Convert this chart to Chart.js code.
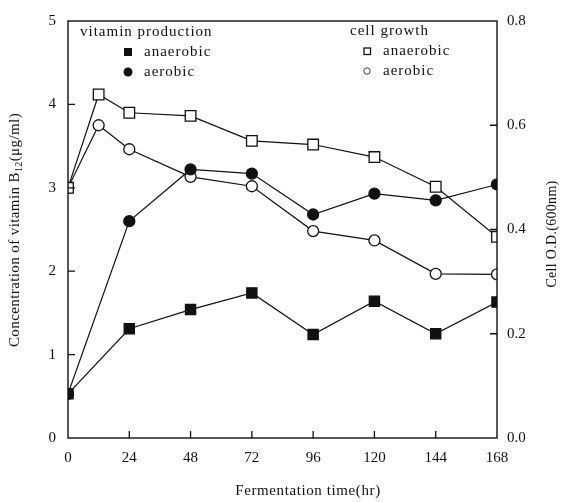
<!DOCTYPE html>
<html>
<head>
<meta charset="utf-8">
<script src="https://cdn.jsdelivr.net/npm/chart.js@4.4.1/dist/chart.umd.min.js"></script>
<style>
  html, body { margin: 0; padding: 0; background: #fff; }
  #wrap { width: 561px; height: 502px; }
</style>
</head>
<body>
<div id="wrap"><canvas id="chart" width="561" height="502"></canvas></div>
<script>
// vitamin B12 + cell growth vs fermentation time
const vitaminHours = [0, 24, 48, 72, 96, 120, 144, 168];
const cellHours = [0, 12, 24, 48, 72, 96, 120, 144, 168];

const vitaminAnaerobic = [0.53, 1.31, 1.54, 1.74, 1.24, 1.64, 1.25, 1.63];
const vitaminAerobic = [0.53, 2.60, 3.22, 3.17, 2.68, 2.93, 2.85, 3.04];
const cellAnaerobic = [0.480, 0.659, 0.624, 0.618, 0.570, 0.563, 0.539, 0.482, 0.386];
const cellAerobic = [0.480, 0.600, 0.554, 0.501, 0.483, 0.397, 0.379, 0.315, 0.314];

const leftTicks = [0, 1, 2, 3, 4, 5];
const rightTicks = [0, 0.2, 0.4, 0.6, 0.8];
const timeTicks = [0, 24, 48, 72, 96, 120, 144, 168];

const FONT = '"Liberation Serif", "DejaVu Serif", serif';
const INK = '#111';

function toPoints(xs, ys) {
    return xs.map((x, i) => ({ x: x, y: ys[i] }));
}

function series(label, xs, ys, axis, style, filled, radius) {
    return {
        label: label,
        data: toPoints(xs, ys),
        yAxisID: axis,
        borderColor: INK,
        borderWidth: 1.2,
        pointStyle: style,
        pointRadius: radius,
        pointBorderWidth: 1.3,
        pointBorderColor: INK,
        pointBackgroundColor: filled ? INK : '#fff',
        fill: false,
        tension: 0
    };
}

// box around plot + inward tick marks
const framePlugin = {
    id: 'frame',
    afterDraw(chart) {
        const ctx = chart.ctx;
        const a = chart.chartArea;
        const sx = chart.scales.x, sy = chart.scales.y, sy1 = chart.scales.y1;
        ctx.save();
        ctx.strokeStyle = INK;
        ctx.lineWidth = 1.4;
        ctx.strokeRect(a.left, a.top, a.right - a.left, a.bottom - a.top);
        ctx.lineWidth = 1.3;
        ctx.beginPath();
        const len = 7;
        timeTicks.slice(1, -1).forEach(t => {
            const px = sx.getPixelForValue(t);
            ctx.moveTo(px, a.bottom); ctx.lineTo(px, a.bottom - len);
        });
        leftTicks.slice(1, -1).forEach(v => {
            const py = sy.getPixelForValue(v);
            ctx.moveTo(a.left, py); ctx.lineTo(a.left + len, py);
        });
        rightTicks.slice(1, -1).forEach(v => {
            const py = sy1.getPixelForValue(v);
            ctx.moveTo(a.right, py); ctx.lineTo(a.right - len, py);
        });
        ctx.stroke();
        ctx.restore();
    }
};

function drawPieces(ctx, pieces, cx, cy, rotate, spacing) {
    // pieces: [text, size, dy]
    ctx.save();
    ctx.translate(cx, cy);
    if (rotate) ctx.rotate(-Math.PI / 2);
    ctx.fillStyle = INK;
    ctx.textBaseline = 'middle';
    ctx.textAlign = 'left';
    ctx.letterSpacing = (spacing || 0) + 'px';
    let total = 0;
    pieces.forEach(p => { ctx.font = p[1] + 'px ' + FONT; total += ctx.measureText(p[0]).width; });
    let x = -total / 2;
    pieces.forEach(p => {
        ctx.font = p[1] + 'px ' + FONT;
        ctx.fillText(p[0], x, p[2]);
        x += ctx.measureText(p[0]).width;
    });
    ctx.restore();
}

const textPlugin = {
    id: 'texts',
    afterDraw(chart) {
        const ctx = chart.ctx;
        drawPieces(ctx, [['Concentration of vitamin B', 15, 0], ['12', 10, 4], ['(μg/ml)', 15, 0]], 15, 230, true, 0.4);
        drawPieces(ctx, [['Cell O.D.(600nm)', 14, 0]], 552, 234, true, 0.3);
        drawPieces(ctx, [['Fermentation time(hr)', 15, 0]], 308, 491, false, 0.6);

        // legend
        ctx.save();
        ctx.fillStyle = INK;
        ctx.strokeStyle = INK;
        ctx.textBaseline = 'middle';
        ctx.textAlign = 'left';
        ctx.font = '15px ' + FONT;
        ctx.letterSpacing = '1px';
        ctx.fillText('vitamin production', 80, 32);
        ctx.fillText('anaerobic', 144, 52);
        ctx.fillText('aerobic', 144, 72);
        ctx.fillText('cell growth', 350, 31);
        ctx.fillText('anaerobic', 383, 51);
        ctx.fillText('aerobic', 383, 71);
        ctx.fillRect(124, 48, 8, 8);
        ctx.beginPath(); ctx.arc(128, 72, 4.5, 0, Math.PI * 2); ctx.fill();
        ctx.lineWidth = 1.3;
        ctx.strokeRect(364, 48, 6.5, 6.5);
        ctx.lineWidth = 0.8;
        ctx.beginPath(); ctx.arc(367, 71, 3.2, 0, Math.PI * 2); ctx.stroke();
        ctx.restore();
    }
};

const tickFont = { family: FONT, size: 15 };
const noGrid = { display: false, drawTicks: false };

new Chart(document.getElementById('chart'), {
    type: 'line',
    data: {
        datasets: [
            series('vitamin anaerobic', vitaminHours, vitaminAnaerobic, 'y', 'rect', true, 7.2),
            series('vitamin aerobic', vitaminHours, vitaminAerobic, 'y', 'circle', true, 5.5),
            series('cell anaerobic', cellHours, cellAnaerobic, 'y1', 'rect', false, 7.5),
            series('cell aerobic', cellHours, cellAerobic, 'y1', 'circle', false, 5.5)
        ]
    },
    options: {
        responsive: false,
        animation: false,
        layout: { padding: { top: 17, left: 0, right: 0, bottom: 0 } },
        plugins: { legend: { display: false }, tooltip: { enabled: false } },
        scales: {
            x: {
                type: 'linear',
                min: 0, max: 168,
                afterBuildTicks: s => { s.ticks = timeTicks.map(v => ({ value: v })); },
                grid: noGrid,
                border: { display: false },
                ticks: { color: INK, font: tickFont, padding: 11, maxRotation: 0 },
                afterFit: s => { s.height = 64; }
            },
            y: {
                position: 'left',
                min: 0, max: 5,
                afterBuildTicks: s => { s.ticks = leftTicks.map(v => ({ value: v })); },
                grid: noGrid,
                border: { display: false },
                ticks: { color: INK, font: tickFont, padding: 12 },
                afterFit: s => { s.width = 68; }
            },
            y1: {
                position: 'right',
                min: 0, max: 0.8,
                afterBuildTicks: s => { s.ticks = rightTicks.map(v => ({ value: v })); },
                grid: noGrid,
                border: { display: false },
                ticks: { color: INK, font: tickFont, padding: 10, callback: v => Number(v).toFixed(1) },
                afterFit: s => { s.width = 64; }
            }
        }
    },
    plugins: [framePlugin, textPlugin]
});
</script>
</body>
</html>
